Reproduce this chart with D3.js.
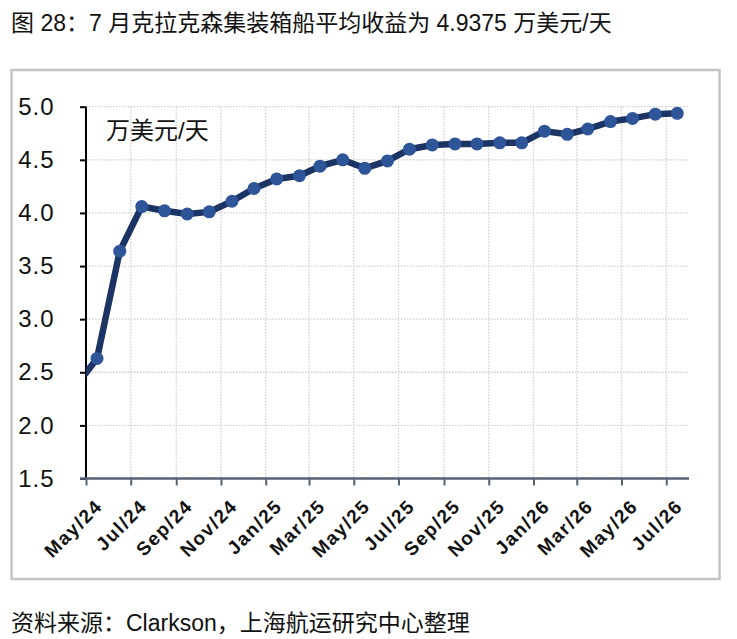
<!DOCTYPE html>
<html>
<head>
<meta charset="utf-8">
<script src="https://cdn.jsdelivr.net/npm/d3@7"></script>
<style>
  body { margin: 0; background: #fff; }
  svg { display: block; font-family: "Liberation Sans", Arial, "Noto Sans CJK SC", sans-serif; }
</style>
</head>
<body>
<div id="chart"></div>
<script>
// monthly data (first point sits left of the axis and is clipped, like the original)
const months = ["2024-04","2024-05","2024-06","2024-07","2024-08","2024-09","2024-10","2024-11","2024-12",
  "2025-01","2025-02","2025-03","2025-04","2025-05","2025-06","2025-07","2025-08","2025-09","2025-10",
  "2025-11","2025-12","2026-01","2026-02","2026-03","2026-04","2026-05","2026-06","2026-07"];
const earnings = [2.36, 2.63, 3.64, 4.06, 4.02, 3.99, 4.01, 4.11, 4.23,
  4.32, 4.35, 4.44, 4.50, 4.42, 4.49, 4.60, 4.64, 4.65, 4.65,
  4.66, 4.66, 4.77, 4.74, 4.79, 4.86, 4.89, 4.93, 4.9375];
const xTickMonths = ["2024-05","2024-07","2024-09","2024-11","2025-01","2025-03","2025-05",
  "2025-07","2025-09","2025-11","2026-01","2026-03","2026-05","2026-07"];
const yTicks = [1.5, 2.0, 2.5, 3.0, 3.5, 4.0, 4.5, 5.0];

const W = 737, H = 639;
const plot = {left: 86, right: 689, top: 106.7, bottom: 478.5};

const parseMonth = d3.timeParse("%Y-%m");
const midMonth = s => d3.timeDay.offset(parseMonth(s), 15);
const data = months.map((m, i) => ({date: midMonth(m), value: earnings[i]}));

const svg = d3.select("#chart").append("svg")
    .attr("width", W)
    .attr("height", H);

// title and source
svg.append("text")
    .attr("x", 11).attr("y", 31)
    .style("font-size", "23px")
    .style("fill", "#111")
    .text("图 28：7 月克拉克森集装箱船平均收益为 4.9375 万美元/天");
svg.append("text")
    .attr("x", 11).attr("y", 631)
    .style("font-size", "23px")
    .style("fill", "#111")
    .text("资料来源：Clarkson，上海航运研究中心整理");

// frame
svg.append("rect")
    .attr("x", 11.5).attr("y", 70)
    .attr("width", 708).attr("height", 509)
    .attr("fill", "none")
    .attr("stroke", "#c4c4c4")
    .attr("stroke-width", 2.5);

// scales
const x = d3.scaleTime()
    .domain([parseMonth("2024-05"), parseMonth("2026-08")])
    .range([plot.left, plot.right]);
const y = d3.scaleLinear()
    .domain([1.5, 5.0])
    .range([plot.bottom, plot.top]);
const xTicks = xTickMonths.map(parseMonth);

// grid
svg.append("g")
  .selectAll("line")
  .data(yTicks.filter(d => d > 1.5))
  .join("line")
    .attr("x1", plot.left).attr("x2", plot.right)
    .attr("y1", d => y(d)).attr("y2", d => y(d))
    .attr("stroke", "#cfcfcf")
    .attr("stroke-width", 1.3)
    .style("stroke-dasharray", "1.5,1.5");
svg.append("g")
  .selectAll("line")
  .data(xTicks.slice(1))
  .join("line")
    .attr("x1", d => x(d)).attr("x2", d => x(d))
    .attr("y1", y(5.0)).attr("y2", plot.bottom)
    .attr("stroke", "#cfcfcf")
    .attr("stroke-width", 1.3)
    .style("stroke-dasharray", "1.5,1.5");

// Y axis
const yAxis = svg.append("g")
    .attr("transform", `translate(${plot.left},0)`)
    .call(d3.axisLeft(y).tickValues(yTicks).tickFormat(d3.format(".1f")).tickSize(6).tickPadding(25.5));
yAxis.select(".domain").attr("stroke", "#000").attr("stroke-width", 2).attr("d", `M0,${plot.top}V${plot.bottom}`);
yAxis.selectAll(".tick line").attr("stroke", "#000").attr("stroke-width", 2);
yAxis.selectAll(".tick text")
    .style("font-size", "24px")
    .style("letter-spacing", "1px")
    .style("fill", "#111");

// X axis
const xAxis = svg.append("g")
    .attr("transform", `translate(0,${plot.bottom})`)
    .call(d3.axisBottom(x).tickValues(xTicks).tickFormat(d3.timeFormat("%b/%y")).tickSize(7).tickSizeOuter(0));
xAxis.select(".domain").attr("stroke", "#556274").attr("stroke-width", 2.5).attr("d", `M${plot.left - 6},0H${plot.right}`);
xAxis.selectAll(".tick line").attr("stroke", "#556274").attr("stroke-width", 2);
xAxis.selectAll(".tick text")
    .attr("text-anchor", "end")
    .attr("transform", "translate(17,29) rotate(-45)")
    .attr("x", 0).attr("y", 0).attr("dy", 0)
    .style("font-size", "19px")
    .style("font-weight", "bold")
    .style("letter-spacing", "1.5px")
    .style("fill", "#111");

// unit label
svg.append("text")
    .attr("x", 106).attr("y", 139)
    .style("font-size", "24px")
    .style("fill", "#111")
    .text("万美元/天");

// series, clipped to the plot area
svg.append("clipPath").attr("id", "plotclip")
  .append("rect")
    .attr("x", plot.left).attr("y", plot.top - 20)
    .attr("width", plot.right - plot.left + 10).attr("height", plot.bottom - plot.top + 20);

const series = svg.append("g").attr("clip-path", "url(#plotclip)");
series.append("path")
    .datum(data)
    .attr("fill", "none")
    .attr("stroke", "#1c3463")
    .attr("stroke-width", 6.5)
    .attr("stroke-linejoin", "round")
    .attr("d", d3.line().x(d => x(d.date)).y(d => y(d.value)));
series.selectAll("circle")
  .data(data)
  .join("circle")
    .attr("cx", d => x(d.date))
    .attr("cy", d => y(d.value))
    .attr("r", 6.5)
    .style("fill", "#2d5597");
</script>
</body>
</html>
